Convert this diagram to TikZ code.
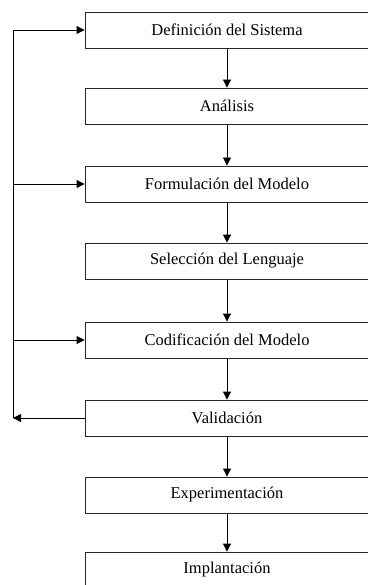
\documentclass[tikz,border=0pt]{standalone}
\usepackage{fontspec}
\setmainfont{Liberation Serif}
\usepackage{tikz}
\usetikzlibrary{arrows.meta}
\pgfdeclarelayer{edgelayer}
\pgfdeclarelayer{nodelayer}
\pgfsetlayers{edgelayer,nodelayer,main}
\tikzstyle{none}=[inner sep=0pt]
\tikzstyle{stage}=[rectangle, fill=white, draw=black!85, line width=0.9pt, minimum width=284pt, minimum height=36pt, inner sep=0pt, font=\fontsize{16.5}{18}\selectfont]
\tikzstyle{flow}=[draw=black, line width=0.9pt, -{Triangle[length=8pt,width=8pt]}]
\tikzstyle{edge}=[draw=black, line width=0.9pt]

\begin{document}
\begin{tikzpicture}[x=1pt, y=-1pt]
			\useasboundingbox (0, 0) rectangle (367, 585);
			\clip (0, 0) rectangle (367, 585);
			\begin{pgfonlayer}{nodelayer}
			\node [style=stage] (0) at (227, 30) {Definición del Sistema};
			\node [style=stage] (1) at (227, 106) {Análisis};
			\node [style=stage] (2) at (227, 184) {Formulación del Modelo};
			\node [style=stage] (3) at (227, 261) {Selección del Lenguaje};
			\node [style=stage] (4) at (227, 340) {Codificación del Modelo};
			\node [style=stage] (5) at (227, 418) {Validación};
			\node [style=stage] (6) at (227, 495) {Experimentación};
			\node [style=stage] (7) at (227, 570) {Implantación};
			\node [style=none] (10) at (13, 30) {};
			\node [style=none] (11) at (13, 184) {};
			\node [style=none] (12) at (13, 340) {};
			\node [style=none] (13) at (13, 418) {};
			\end{pgfonlayer}
			\begin{pgfonlayer}{edgelayer}
			\draw [style=flow] (0) to (1);
			\draw [style=flow] (1) to (2);
			\draw [style=flow] (2) to (3);
			\draw [style=flow] (3) to (4);
			\draw [style=flow] (4) to (5);
			\draw [style=flow] (5) to (6);
			\draw [style=flow] (6) to (7);
			\draw [style=flow] (5) to (13.center);
			\draw [style=edge] (13.center) to (10.center);
			\draw [style=flow] (10.center) to (0);
			\draw [style=flow] (11.center) to (2);
			\draw [style=flow] (12.center) to (4);
			\end{pgfonlayer}
\end{tikzpicture}
\end{document}
